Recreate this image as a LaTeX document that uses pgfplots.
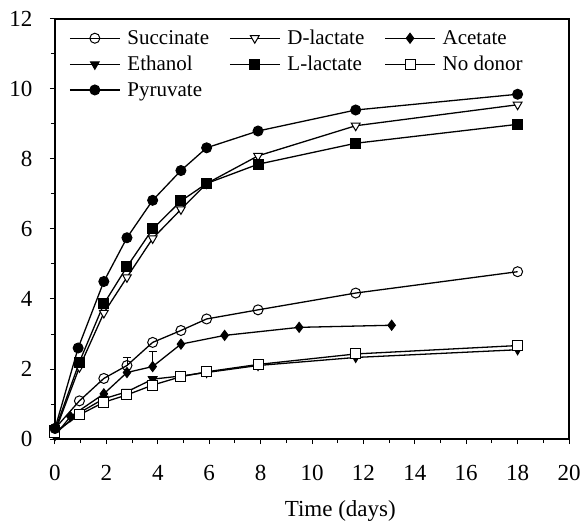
\documentclass[border=0pt]{standalone}
\usepackage{fontspec}
\setmainfont{Liberation Serif}
\usepackage{pgfplots}
\pgfplotsset{compat=1.18}

\begin{document}
\begin{tikzpicture}
\begin{axis}[
name=ax,
scale only axis,
width=514pt, height=420pt,
xmin=0, xmax=20, ymin=0, ymax=12,
xtick={0,2,...,20}, ytick={0,2,...,12},
minor x tick num=1, minor y tick num=1,
tick align=outside, xtick pos=bottom, ytick pos=left,
major tick length=5pt, minor tick length=4pt,
axis line style={line width=1.2pt},
every tick/.style={black, line width=1pt},
tick label style={font=\fontsize{23}{26}\selectfont},
/pgf/number format/assume math mode=true,
xticklabel style={yshift=-36pt, anchor=base},
yticklabel style={xshift=-14pt},
xlabel={Time (days)},
xlabel style={font=\fontsize{23}{26}\selectfont, at={(rel axis cs:0.555,0)}, anchor=base, yshift=-77pt},
legend columns=3,
legend style={draw=none, fill=none, at={(rel axis cs:0,1)}, anchor=north west,
  xshift=11pt, yshift=-7pt, font=\fontsize{21}{24}\selectfont,
  row sep=6pt, cells={anchor=west},
  /tikz/column 4/.append style={column sep=26pt}},
/tikz/every odd column/.append style={column sep=5pt},
/tikz/every even column/.append style={column sep=18pt},
every axis plot/.append style={black, line width=1.3pt, mark size=5pt,
  legend image code/.code={\draw[mark repeat=2,mark phase=2] plot coordinates {(0pt,0pt) (25pt,0pt) (50pt,0pt)};}},
]

% Succinate
\addplot[black, mark=o, mark options={solid, fill=white, line width=1pt}, error bars/.cd, y dir=plus, y explicit, error mark options={rotate=90, mark size=4pt, line width=1pt}] coordinates {
(0,0.3) (0.95,1.09) (1.9,1.73) (2.8,2.1) +- (0,0.23) (3.8,2.76) (4.9,3.1) (5.9,3.43) (7.9,3.69) (11.7,4.17) (18,4.78)
};
\addlegendentry{Succinate}

% D-lactate
\addplot[black, mark=triangle*, mark options={solid, fill=white, rotate=180, line width=1pt}] coordinates {
(0,0.2) (0.95,2.05) (1.9,3.6) (2.8,4.62) (3.8,5.73) (4.9,6.56) (5.9,7.3) (7.9,8.09) (11.7,8.95) (18,9.55)
};
\addlegendentry{D-lactate}

% Acetate
\addplot[black, mark=diamond*, mark options={solid, fill=black, line width=1pt}, error bars/.cd, y dir=plus, y explicit, error mark options={rotate=90, mark size=4pt, line width=1pt}] coordinates {
(0,0.1) (0.6,0.64) (1.9,1.29) (2.8,1.9) (3.8,2.07) +- (0,0.42) (4.9,2.71) (6.6,2.96) (9.5,3.19) (13.1,3.25)
};
\addlegendentry{Acetate}

% Ethanol
\addplot[black, mark=triangle*, mark options={solid, fill=black, rotate=180, line width=1pt}] coordinates {
(0,0.15) (0.95,0.75) (1.9,1.15) (2.8,1.35) (3.8,1.71) (4.9,1.8) (5.9,1.9) (7.9,2.1) (11.7,2.33) (18,2.55)
};
\addlegendentry{Ethanol}

% L-lactate
\addplot[black, mark=square*, mark options={solid, fill=black, line width=1pt}] coordinates {
(0,0.25) (0.95,2.2) (1.9,3.86) (2.8,4.92) (3.8,6.0) (4.9,6.8) (5.9,7.3) (7.9,7.85) (11.7,8.45) (18,8.99)
};
\addlegendentry{L-lactate}

% No donor
\addplot[black, mark=square*, mark options={solid, fill=white, line width=1pt}] coordinates {
(0,0.2) (0.95,0.69) (1.9,1.05) (2.8,1.26) (3.8,1.54) (4.9,1.78) (5.9,1.92) (7.9,2.13) (11.7,2.43) (18,2.67)
};
\addlegendentry{No donor}

% Pyruvate
\addplot[black, mark=*, mark options={solid, fill=black, line width=1pt}] coordinates {
(0,0.3) (0.9,2.6) (1.9,4.5) (2.8,5.75) (3.8,6.82) (4.9,7.67) (5.9,8.32) (7.9,8.8) (11.7,9.4) (18,9.85)
};
\addlegendentry{Pyruvate}

\end{axis}
% page as large as the reference, around the axis box
\pgfresetboundingbox
\path ([shift={(-55pt,19pt)}]ax.north west) rectangle ([shift={(17pt,-83pt)}]ax.south east);
\end{tikzpicture}
\end{document}
